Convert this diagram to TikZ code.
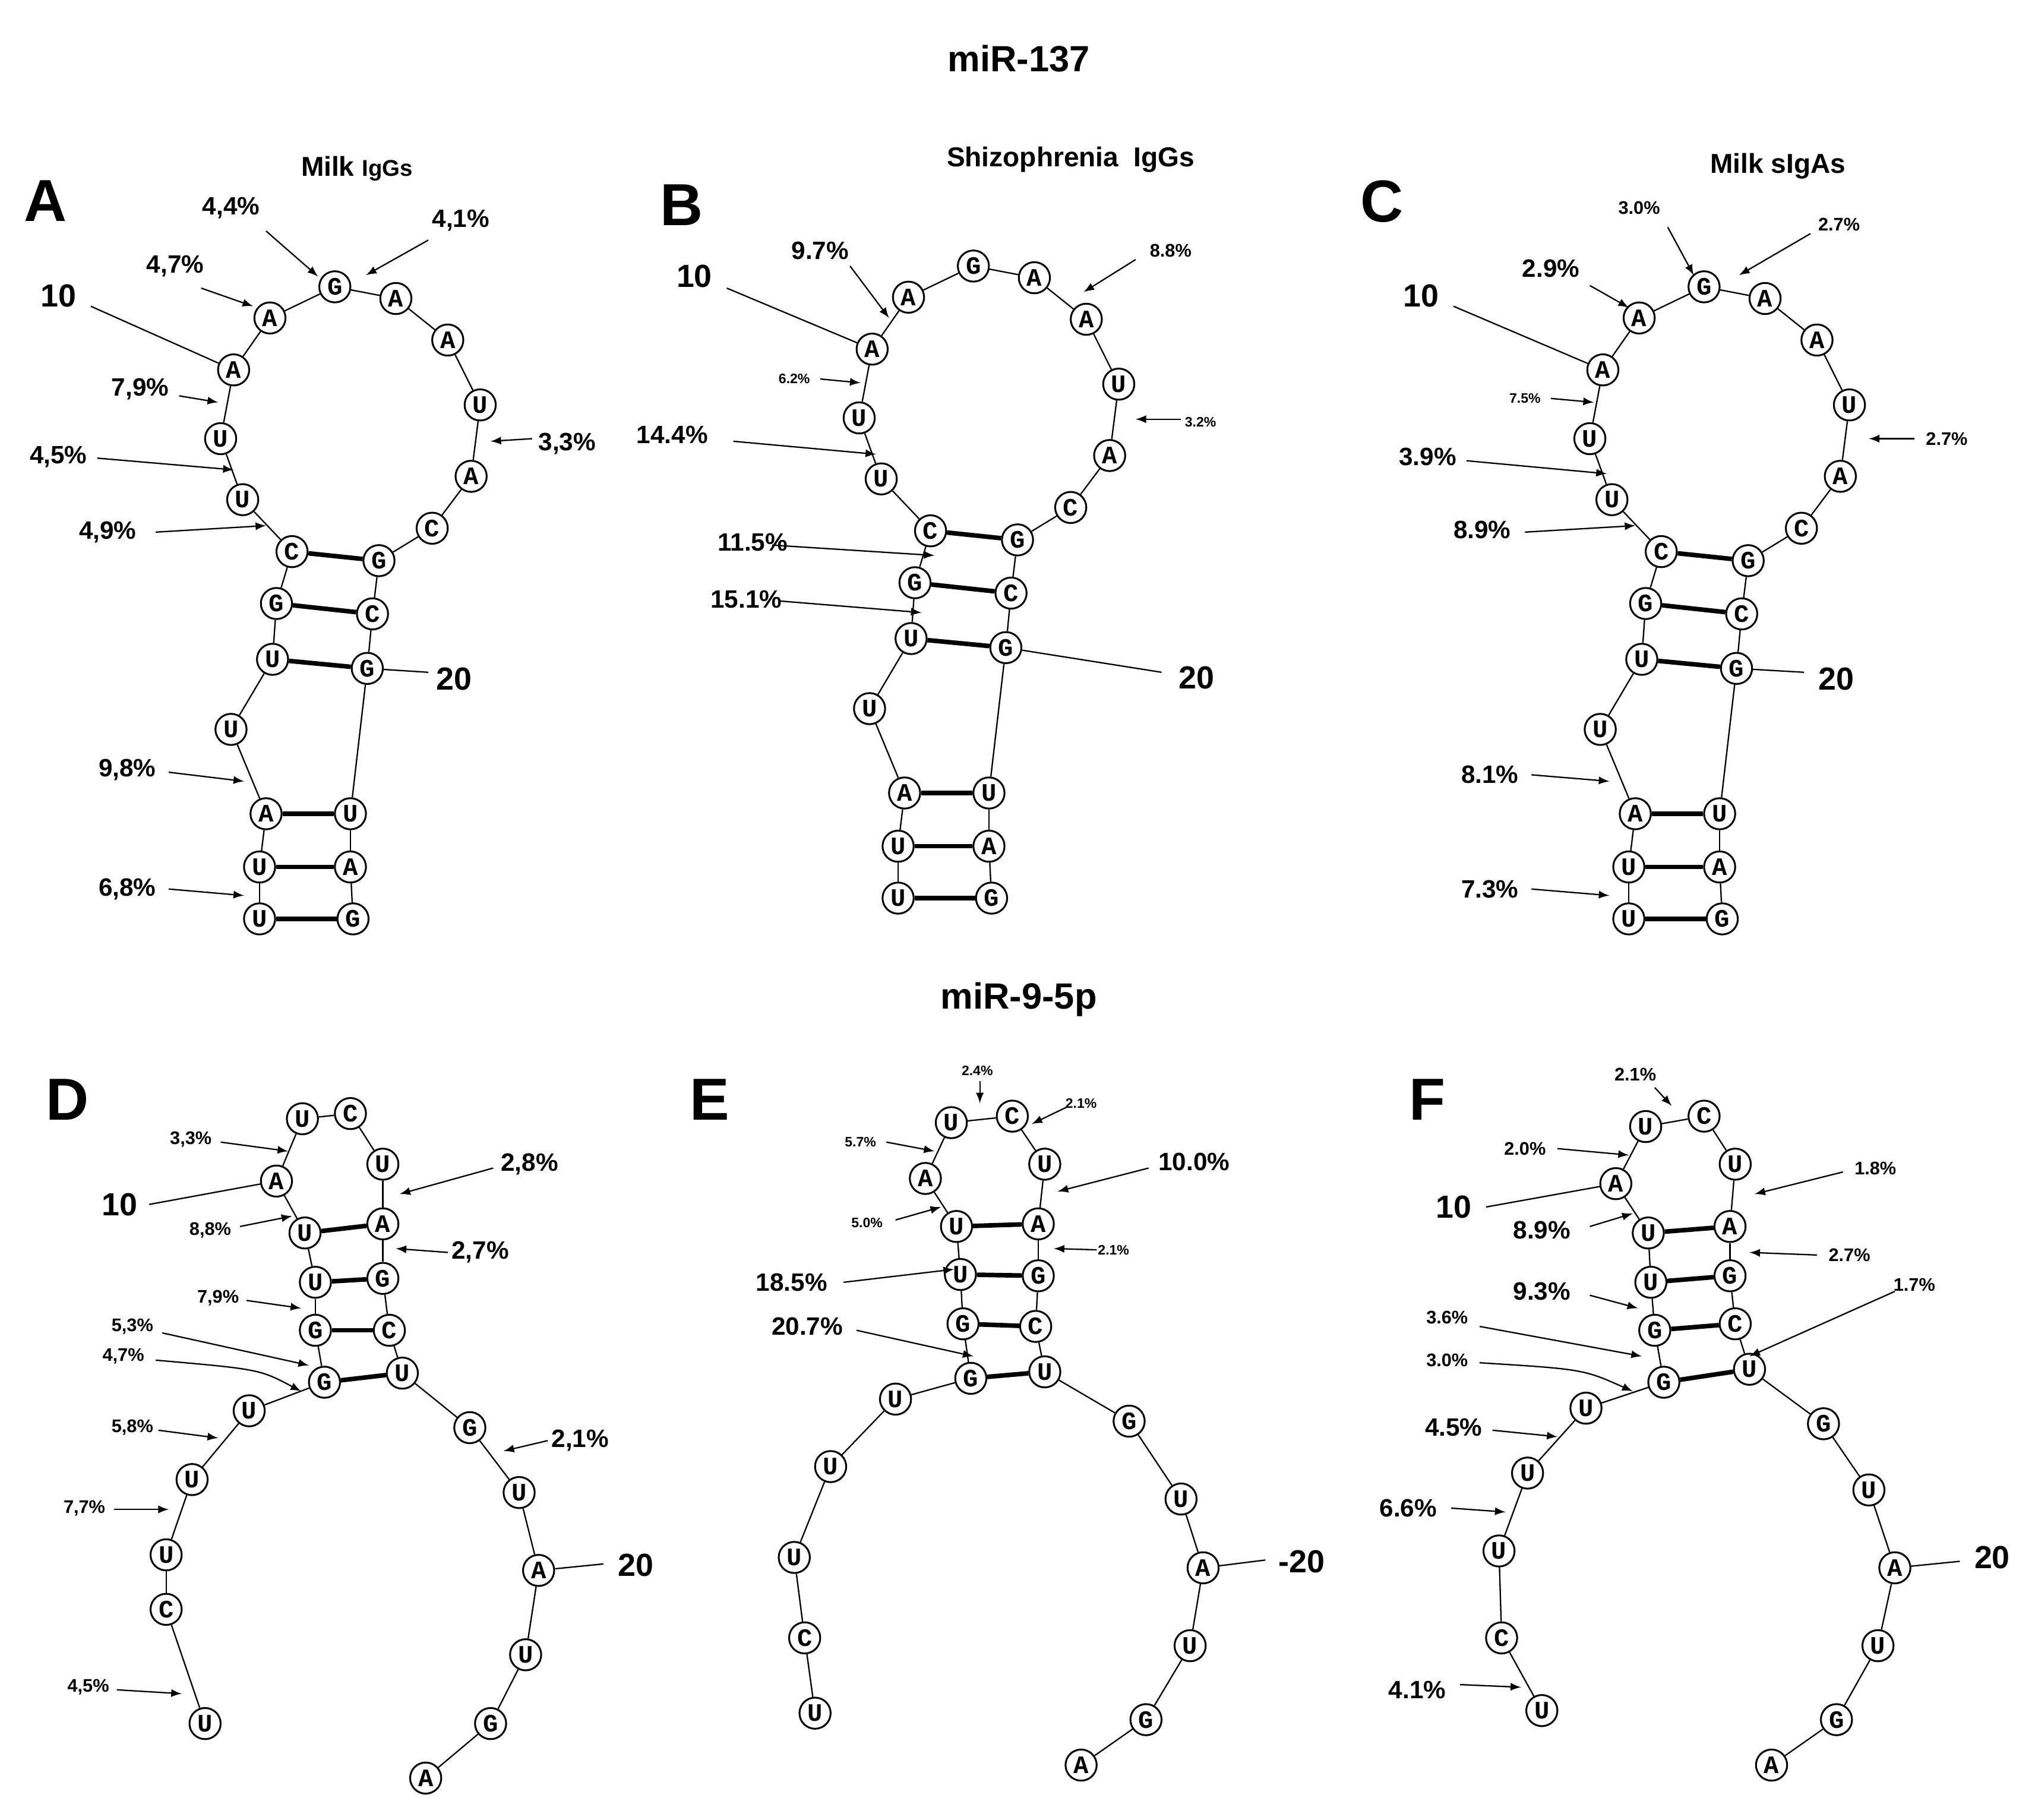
\documentclass[tikz,border=0pt]{standalone}
\usepackage{fontspec}
\setmainfont{Liberation Sans}
\setmonofont{Liberation Mono}
\begin{document}
\begin{tikzpicture}[x=0.02cm,y=-0.02cm,
  nuc/.style={circle,draw,line width=0.8pt,minimum size=0.48cm,inner sep=0pt,font=\ttfamily\bfseries\fontsize{11}{11}\selectfont,fill=white},
  bb/.style={line width=0.6pt},
  bp/.style={line width=2pt},
  arr/.style={-latex,line width=0.6pt},
  ln/.style={line width=0.6pt},
  lab/.style={font=\bfseries\fontsize{11}{11}\selectfont,inner sep=0pt},
  slab/.style={font=\bfseries\fontsize{8}{8}\selectfont,inner sep=0pt},
  tlab/.style={font=\bfseries\fontsize{6}{6}\selectfont,inner sep=0pt},
  num/.style={font=\bfseries\fontsize{14}{14}\selectfont,inner sep=0pt},
  big/.style={font=\bfseries\fontsize{26}{26}\selectfont,inner sep=0pt},
  ttl/.style={font=\bfseries\fontsize{16}{16}\selectfont,inner sep=0pt},
  sub/.style={font=\bfseries\fontsize{12}{12}\selectfont,inner sep=0pt}]
\useasboundingbox (0,0) rectangle (1568,1402);
\newcommand\strand[2]{%
  \foreach \i/\x/\y/\l in {#2} {\node[nuc] (#1\i) at (\x,\y) {\l};}
  \foreach \i in {1,...,22} {\pgfmathtruncatemacro\j{\i+1}\draw[bb] (#1\i) -- (#1\j);}}
\newcommand\mirA[1]{%
  \strand{#1}{1/200/708/U,2/200/668/U,3/205/627/A,4/178/562/U,5/210/508/U,6/213/465/G,7/225/425/C,8/187/385/U,9/170/338/U,10/180/285/A,11/208/245/A,12/258/221/G,13/305/230/A,14/345/262/A,15/370/312/U,16/363/367/A,17/333/407/C,18/292/432/G,19/287/473/C,20/283/515/G,21/270/627/U,22/270/668/A,23/272/708/G}
  \foreach \a/\b in {7/18,6/19,5/20,3/21,2/22,1/23} {\draw[bp] (#1\a) -- (#1\b);}}
\node[ttl] (t1) at (785,45) {miR-137};
\node[ttl] (t2) at (785,770) {miR-9-5p};
% Panel A
\mirA{a}
\node[big] (LA) at (35,155) {A};
\node[sub] (tA) at (275,130) {Milk {\fontsize{10}{10}\selectfont IgGs}};
\node[lab] (a1) at (178,160) {4,4\%}; \draw[arr] (205,178) -- (245,213);
\node[lab] (a2) at (355,170) {4,1\%}; \draw[arr] (330,185) -- (282,212);
\node[lab] (a3) at (135,205) {4,7\%}; \draw[arr] (155,222) -- (195,236);
\node[num] (a4) at (45,228) {10}; \draw[ln] (70,236) -- (a10);
\node[lab] (a5) at (108,300) {7,9\%}; \draw[arr] (138,305) -- (168,310);
\node[lab] (a6) at (45,352) {4,5\%}; \draw[arr] (75,353) -- (180,362);
\node[lab] (a7) at (437,342) {3,3\%}; \draw[arr] (410,338) -- (378,340);
\node[lab] (a8) at (83,410) {4,9\%}; \draw[arr] (120,410) -- (205,405);
\node[num] (a9) at (350,523) {20}; \draw[ln] (330,518) -- (a20);
\node[lab] (a11) at (98,593) {9,8\%}; \draw[arr] (130,595) -- (188,602);
\node[lab] (a12) at (98,685) {6,8\%}; \draw[arr] (130,685) -- (188,690);
% Panel B
\begin{scope}[shift={(492,-16)}]\mirA{b}\end{scope}
\node[big] (LB) at (525,158) {B};
\node[sub] (tB) at (825,123) {Shizophrenia\ \ IgGs};
\node[lab] (b1) at (632,193) {9.7\%}; \draw[arr] (655,205) -- (685,245);
\node[slab] (b2) at (902,193) {8.8\%}; \draw[arr] (875,200) -- (835,225);
\node[num] (b3) at (535,213) {10}; \draw[ln] (560,222) -- (b10);
\node[tlab] (b4) at (612,292) {6.2\%}; \draw[arr] (632,292) -- (663,295);
\node[tlab] (b5) at (925,325) {3.2\%}; \draw[arr] (910,323) -- (875,323);
\node[lab] (b6) at (518,335) {14.4\%}; \draw[arr] (565,340) -- (675,350);
\node[lab] (b7) at (580,418) {11.5\%}; \draw[arr] (595,420) -- (720,428);
\node[lab] (b8) at (575,462) {15.1\%}; \draw[arr] (600,463) -- (710,472);
\node[num] (b9) at (922,522) {20}; \draw[ln] (895,518) -- (b20);
% Panel C
\begin{scope}[shift={(1055,0)}]\mirA{c}\end{scope}
\node[big] (LC) at (1065,155) {C};
\node[sub] (tC) at (1370,128) {Milk sIgAs};
\node[slab] (c1) at (1263,160) {3.0\%}; \draw[arr] (1285,175) -- (1305,212);
\node[slab] (c2) at (1417,173) {2.7\%}; \draw[arr] (1395,180) -- (1340,212);
\node[lab] (c3) at (1195,207) {2.9\%}; \draw[arr] (1225,220) -- (1255,237);
\node[num] (c4) at (1095,228) {10}; \draw[ln] (1120,236) -- (c10);
\node[tlab] (c5) at (1175,307) {7.5\%}; \draw[arr] (1195,307) -- (1228,310);
\node[lab] (c6) at (1100,352) {3.9\%}; \draw[arr] (1130,355) -- (1238,365);
\node[slab] (c7) at (1500,338) {2.7\%}; \draw[arr] (1475,338) -- (1440,338);
\node[lab] (c8) at (1142,408) {8.9\%}; \draw[arr] (1175,410) -- (1260,405);
\node[num] (c9) at (1415,523) {20}; \draw[ln] (1390,518) -- (c20);
\node[lab] (c11) at (1148,597) {8.1\%}; \draw[arr] (1180,597) -- (1240,602);
\node[lab] (c12) at (1148,685) {7.3\%}; \draw[arr] (1180,685) -- (1240,690);
% Panel D
\strand{d}{1/158/1328/U,2/128/1240/C,3/128/1198/U,4/148/1140/U,5/192/1087/U,6/250/1065/G,7/243/1025/G,8/243/988/U,9/235/950/U,10/213/910/A,11/233/862/U,12/270/858/C,13/295/897/U,14/295/943/A,15/295/985/G,16/300/1025/C,17/310/1058/U,18/362/1100/G,19/400/1150/U,20/415/1210/A,21/405/1275/U,22/378/1328/G,23/328/1370/A}
\foreach \a/\b in {6/17,7/16,8/15,9/14} {\draw[bp] (d\a) -- (d\b);}
\node[big] (LD) at (52,847) {D};
\node[slab] (d101) at (147,878) {3,3\%}; \draw[arr] (170,880) -- (222,887);
\node[lab] (d102) at (408,897) {2,8\%}; \draw[arr] (380,900) -- (308,920);
\node[num] (d103) at (92,928) {10}; \draw[ln] (115,928) -- (d10);
\node[slab] (d104) at (162,948) {8,8\%}; \draw[arr] (185,945) -- (225,937);
\node[lab] (d105) at (370,965) {2,7\%}; \draw[arr] (345,965) -- (305,962);
\node[slab] (d106) at (168,1000) {7,9\%}; \draw[arr] (190,1002) -- (232,1008);
\node[slab] (d107) at (102,1022) {5,3\%}; \draw[arr] (125,1027) -- (238,1052);
\node[slab] (d108) at (95,1045) {4,7\%}; \draw[arr] (120,1048) .. controls (200,1055) .. (232,1072);
\node[slab] (d109) at (102,1100) {5,8\%}; \draw[arr] (122,1102) -- (168,1108);
\node[lab] (d110) at (447,1110) {2,1\%}; \draw[arr] (422,1110) -- (388,1118);
\node[slab] (d111) at (65,1162) {7,7\%}; \draw[arr] (88,1163) -- (130,1163);
\node[num] (d112) at (490,1206) {20}; \draw[ln] (465,1205) -- (d20);
\node[slab] (d113) at (68,1300) {4,5\%}; \draw[arr] (90,1302) -- (140,1305);
% Panel E
\strand{e}{1/628/1320/U,2/620/1262/C,3/612/1200/U,4/640/1130/U,5/690/1078/U,6/748/1062/G,7/742/1020/G,8/740/982/U,9/737/945/U,10/713/908/A,11/733/865/U,12/780/860/C,13/805/897/U,14/800/943/A,15/800/983/G,16/798/1022/C,17/805/1057/U,18/870/1095/G,19/910/1155/U,20/927/1208/A,21/917/1268/U,22/883/1325/G,23/833/1360/A}
\foreach \a/\b in {6/17,7/16,8/15,9/14} {\draw[bp] (e\a) -- (e\b);}
\node[big] (LE) at (547,847) {E};
\node[tlab] (e101) at (753,825) {2.4\%}; \draw[arr] (755,833) -- (755,850);
\node[tlab] (e102) at (833,850) {2.1\%}; \draw[arr] (822,853) -- (795,866);
\node[tlab] (e103) at (663,880) {5.7\%}; \draw[arr] (683,880) -- (720,887);
\node[lab] (e104) at (920,895) {10.0\%}; \draw[arr] (885,900) -- (815,918);
\node[tlab] (e105) at (668,942) {5.0\%}; \draw[arr] (690,940) -- (725,930);
\node[tlab] (e106) at (858,963) {2.1\%}; \draw[arr] (845,963) -- (812,962);
\node[lab] (e107) at (610,988) {18.5\%}; \draw[arr] (650,988) -- (735,978);
\node[lab] (e108) at (622,1022) {20.7\%}; \draw[arr] (660,1025) -- (750,1045);
\node[num] (e109) at (1003,1203) {-20}; \draw[ln] (975,1202) -- (e20);
% Panel F
\strand{f}{1/1188/1318/U,2/1157/1262/C,3/1155/1195/U,4/1177/1135/U,5/1222/1085/U,6/1282/1065/G,7/1275/1025/G,8/1272/988/U,9/1270/950/U,10/1245/912/A,11/1268/868/U,12/1313/860/C,13/1337/897/U,14/1333/945/A,15/1333/983/G,16/1337/1020/C,17/1348/1055/U,18/1405/1097/G,19/1440/1148/U,20/1460/1208/A,21/1447/1268/U,22/1415/1325/G,23/1365/1360/A}
\foreach \a/\b in {6/17,7/16,8/15,9/14} {\draw[bp] (f\a) -- (f\b);}
\node[big] (LF) at (1100,847) {F};
\node[slab] (f101) at (1260,828) {2.1\%}; \draw[arr] (1275,838) -- (1288,852);
\node[slab] (f102) at (1175,885) {2.0\%}; \draw[arr] (1200,885) -- (1255,890);
\node[slab] (f103) at (1445,900) {1.8\%}; \draw[arr] (1420,903) -- (1352,920);
\node[num] (f104) at (1120,930) {10}; \draw[ln] (1145,930) -- (f10);
\node[lab] (f105) at (1188,948) {8.9\%}; \draw[arr] (1225,945) -- (1258,935);
\node[slab] (f106) at (1425,967) {2.7\%}; \draw[arr] (1400,967) -- (1348,965);
\node[lab] (f107) at (1188,995) {9.3\%}; \draw[arr] (1225,998) -- (1262,1008);
\node[slab] (f108) at (1475,990) {1.7\%}; \draw[arr] (1460,995) -- (1348,1045);
\node[slab] (f109) at (1115,1015) {3.6\%}; \draw[arr] (1140,1022) -- (1265,1045);
\node[slab] (f110) at (1115,1048) {3.0\%}; \draw[arr] (1140,1050) .. controls (1220,1055) .. (1258,1072);
\node[lab] (f111) at (1120,1100) {4.5\%}; \draw[arr] (1150,1102) -- (1200,1107);
\node[lab] (f112) at (1085,1162) {6.6\%}; \draw[arr] (1118,1162) -- (1160,1165);
\node[num] (f113) at (1535,1200) {20}; \draw[ln] (1510,1203) -- (f20);
\node[lab] (f114) at (1092,1302) {4.1\%}; \draw[arr] (1125,1298) -- (1172,1300);
\end{tikzpicture}
\end{document}
